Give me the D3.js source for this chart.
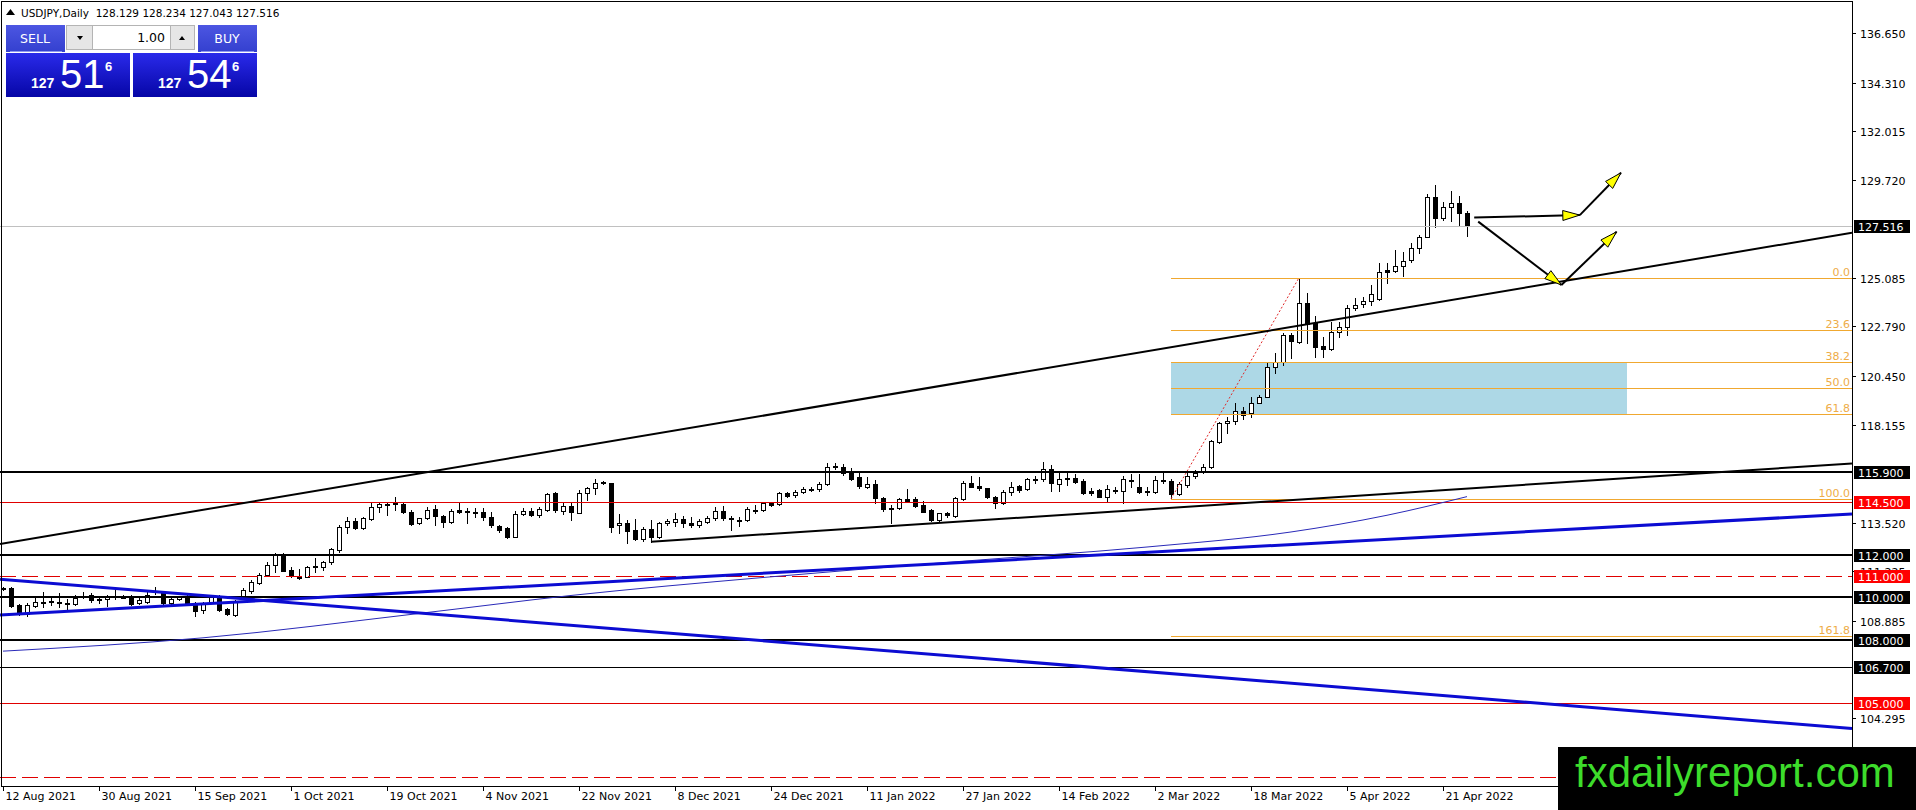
<!DOCTYPE html>
<html><head><meta charset="utf-8">
<script src="https://cdn.jsdelivr.net/npm/d3@7"></script>
<style>html,body{margin:0;padding:0;background:#fff;overflow:hidden}</style>
</head><body><svg id="c" width="1916" height="810"></svg>
<script>
// ---------------- DATA ----------------
const symbolHeader = "USDJPY,Daily";
const lastOHLC = ["128.129","128.234","127.043","127.516"];
const lotSize = "1.00";
const sellQuote = ["127","51","6"];
const buyQuote = ["127","54","6"];
const watermark = "fxdailyreport.com";

const dateLabels = ["12 Aug 2021","30 Aug 2021","15 Sep 2021","1 Oct 2021","19 Oct 2021","4 Nov 2021","22 Nov 2021","8 Dec 2021","24 Dec 2021","11 Jan 2022","27 Jan 2022","14 Feb 2022","2 Mar 2022","18 Mar 2022","5 Apr 2022","21 Apr 2022"];
const dateLabelBars = [0,12,24,36,48,60,72,84,96,108,120,132,144,156,168,180];
const priceTicks = [136.650,134.310,132.015,129.720,125.085,122.790,120.450,118.155,113.520,111.225,108.885,104.295];

const opens = [110.44,110.45,109.63,109.21,109.58,109.74,109.78,109.76,109.74,109.66,110.04,110.10,109.88,109.90,110.04,110.03,109.99,109.71,109.79,110.25,110.26,109.71,109.93,110.02,109.71,109.39,109.79,110.02,109.43,109.16,109.99,110.29,110.65,111.05,111.52,112.02,111.28,110.97,110.97,111.44,111.41,111.68,112.23,113.33,113.61,113.25,113.68,114.24,114.40,114.42,114.39,114.04,113.52,113.72,114.17,113.84,113.57,114.12,114.03,114.02,114.04,113.77,113.36,113.25,112.86,113.93,114.09,113.88,114.12,114.91,114.09,114.31,113.99,114.91,115.14,115.41,115.38,113.41,113.52,113.17,112.73,113.20,112.83,113.49,113.57,113.71,113.49,113.41,113.57,113.73,114.07,113.75,113.66,113.65,114.10,114.12,114.43,114.40,114.94,114.83,114.98,115.10,115.09,115.35,116.17,116.13,115.93,115.69,115.19,115.35,114.67,114.22,114.20,114.62,114.62,114.35,114.12,113.65,113.96,113.83,114.62,115.38,115.25,115.14,114.72,114.43,114.99,115.25,115.10,115.55,115.57,116.04,115.35,115.60,115.61,115.48,115.03,115.06,114.75,115.05,115.03,115.52,115.19,115.00,114.99,115.52,115.50,114.87,115.30,115.72,115.90,116.13,117.35,118.21,118.34,118.81,118.69,119.19,119.47,120.86,121.13,122.39,122.07,123.91,122.97,121.87,121.71,122.54,122.78,123.65,123.83,124.01,124.07,125.45,125.42,125.64,125.93,126.48,127.03,128.92,127.90,128.42,128.60,128.129];
const highs = [110.50,110.50,109.68,109.71,109.95,110.26,110.02,110.18,109.90,110.10,110.26,110.21,110.02,110.10,110.34,110.10,110.10,109.95,110.26,110.50,110.29,109.95,110.05,110.08,109.79,109.79,110.10,110.10,109.47,109.87,110.42,110.81,111.13,111.68,112.07,112.10,111.41,111.32,111.47,111.83,111.73,112.31,113.41,113.80,113.72,113.80,114.51,114.51,114.43,114.72,114.43,114.12,113.75,114.28,114.35,113.88,114.15,114.51,114.20,114.20,114.20,114.04,113.41,113.30,114.09,114.20,114.20,114.27,114.94,114.98,114.51,114.43,115.06,115.22,115.57,115.49,115.41,113.93,113.65,113.68,113.30,113.65,113.57,113.69,113.96,113.83,113.80,113.68,113.83,114.28,114.31,113.83,113.77,114.27,114.35,114.51,114.46,114.98,114.98,115.06,115.19,115.22,115.46,116.35,116.32,116.29,116.09,115.88,115.66,115.54,114.75,114.35,114.67,115.09,114.72,114.56,114.15,113.99,114.04,114.72,115.50,115.72,115.66,115.17,114.78,115.06,115.46,115.30,115.61,115.73,116.37,116.24,115.85,115.88,115.82,115.57,115.14,115.10,115.30,115.19,115.73,115.82,115.82,115.22,115.73,115.85,115.56,115.46,115.93,116.01,116.29,117.43,118.29,118.53,119.16,119.00,119.47,119.55,121.13,121.52,122.46,122.46,125.09,124.35,123.28,122.31,123.02,123.02,123.80,124.12,124.20,124.75,125.80,125.80,126.40,126.32,126.72,127.11,129.05,129.47,128.68,129.20,128.95,128.234];
const lows = [110.35,109.55,109.16,109.11,109.52,109.55,109.63,109.55,109.43,109.63,109.98,109.79,109.74,109.60,109.90,109.95,109.63,109.68,109.71,110.15,109.68,109.66,109.88,109.65,109.13,109.24,109.75,109.36,109.14,109.11,109.99,110.21,110.62,111.00,111.21,111.24,110.97,110.84,110.94,111.21,111.28,111.57,112.15,113.02,113.22,113.22,113.65,114.04,113.88,114.12,113.96,113.41,113.45,113.68,113.41,113.33,113.52,113.96,113.49,113.77,113.65,113.33,113.10,112.78,112.83,113.88,113.83,113.80,114.09,114.04,113.93,113.65,113.96,114.59,114.87,115.33,113.10,113.02,112.54,112.70,112.67,112.62,112.78,113.41,113.36,113.30,113.30,113.30,113.52,113.65,113.65,113.17,113.36,113.61,113.99,114.09,114.32,114.35,114.72,114.75,114.91,115.03,115.03,115.30,116.04,115.77,115.54,115.14,115.14,114.43,114.09,113.52,114.15,114.51,114.28,114.01,113.61,113.57,113.80,113.80,114.59,115.19,115.06,114.67,114.20,114.39,114.83,114.99,115.06,115.38,115.50,115.03,115.03,115.30,115.38,114.87,114.83,114.72,114.51,114.94,114.43,115.22,114.91,114.83,114.94,115.41,114.64,114.83,115.22,115.61,115.85,116.09,117.30,117.74,118.18,118.40,118.50,119.16,119.44,120.61,120.97,121.28,122.02,122.02,121.36,121.33,121.68,122.31,122.39,123.57,123.72,123.80,124.04,124.83,125.38,125.17,125.85,126.27,127.00,127.50,127.82,127.79,127.53,127.043];
const closes = [110.41,109.58,109.21,109.63,109.76,109.77,109.80,109.74,109.70,109.98,110.06,109.87,109.91,110.02,110.06,110.01,109.68,109.87,110.10,110.27,109.71,109.90,110.02,109.68,109.36,109.71,110.02,109.39,109.21,109.79,110.34,110.73,111.05,111.52,111.99,111.25,111.05,110.89,111.44,111.47,111.68,112.26,113.30,113.61,113.25,113.72,114.28,114.39,114.38,114.44,114.01,113.46,113.72,114.12,113.84,113.57,114.09,114.01,114.05,114.00,113.77,113.41,113.17,112.86,113.93,114.09,113.88,114.15,114.87,114.12,114.31,114.04,114.94,115.14,115.41,115.43,113.33,113.52,113.14,112.73,113.20,112.83,113.49,113.60,113.71,113.49,113.41,113.60,113.76,114.07,113.73,113.72,113.65,114.15,114.12,114.46,114.35,114.94,114.80,114.98,115.10,115.11,115.35,116.13,116.20,115.88,115.57,115.25,115.35,114.67,114.15,114.20,114.62,114.56,114.31,114.04,113.65,113.96,113.88,114.67,115.41,115.22,115.14,114.72,114.43,114.99,115.22,115.06,115.57,115.57,116.04,115.41,115.57,115.62,115.46,114.94,114.94,114.75,115.10,115.07,115.57,115.54,114.99,114.98,115.54,115.49,114.87,115.35,115.72,115.88,116.17,117.39,118.21,118.34,118.81,118.61,119.19,119.47,120.89,121.13,122.39,122.12,123.91,122.91,121.83,121.71,122.54,122.78,123.65,123.80,124.01,124.32,125.38,125.38,125.64,125.90,126.48,127.03,128.92,127.90,128.42,128.60,128.16,127.516];

// thin moving average, read at sample bars
const maBars = [0,25,52,71,95,119,143,161,173,183];
const maValues = [107.45,108.08,109.23,110.08,110.93,111.67,112.37,113.08,113.87,114.75];

// horizontal levels
const levelPrices = [115.900,114.500,112.000,111.000,110.000,108.000,106.700,105.000,101.500];
const levelKinds = ["black","red","black","redDash","black","black","blackThin","red","redDash"];
const levelLabelShown = [true,true,true,true,true,true,true,true,false];
const currentPrice = 127.516;

// fibonacci retracement
const fibAnchorBars = [146,162];
const fibAnchorPrices = [114.64,125.09];
const fibLevels = [0.0,23.6,38.2,50.0,61.8,100.0,161.8];
const zoneBars = [146,203];
const zoneFibLevels = [38.2,61.8];

// trend lines: [bar, price]
const trendLongBlack = [[0,112.54],[183,124.16]];
const trendDecBlack = [[81,112.62],[183,115.13]];
const trendBlueUp = [[0,109.17],[183,112.94]];
const trendBlueDown = [[0,110.84],[183,105.26]];

// projected arrows: [bar, price]
const arrowPathFlat = [[183.9,127.93],[197.1,128.05],[202.25,130.05]];
const arrowPathDip = [[184.4,127.74],[194.8,124.75],[201.7,127.26]];

// ---------------- DRAW ----------------
const W = 1916, H = 810, AX = 1852, AY = 786;
const svg = d3.select("#c");
const x = d3.scaleLinear().domain([0, 231.125]).range([3, AX]);
const y = d3.scaleLinear().domain([101.08, 138.21]).range([AY, 0]);
const FONT = "'DejaVu Sans', Verdana, sans-serif";

const defs = svg.append("defs");
defs.append("clipPath").attr("id","plot").append("rect").attr("x",0).attr("y",0).attr("width",AX).attr("height",AY);
const g1 = defs.append("linearGradient").attr("id","btn").attr("x1",0).attr("y1",0).attr("x2",0).attr("y2",1);
g1.append("stop").attr("offset","0").attr("stop-color","#4c56e2");
g1.append("stop").attr("offset","1").attr("stop-color","#3440cf");
const g2 = defs.append("linearGradient").attr("id","quote").attr("x1",0).attr("y1",0).attr("x2",0).attr("y2",1);
g2.append("stop").attr("offset","0").attr("stop-color","#2a2aea");
g2.append("stop").attr("offset","1").attr("stop-color","#0606a6");

svg.append("rect").attr("width",W).attr("height",H).attr("fill","#fff");

const plot = svg.append("g").attr("clip-path","url(#plot)");

// zone rectangle (background object)
const fibPrice = lv => fibAnchorPrices[1] - (fibAnchorPrices[1]-fibAnchorPrices[0])*lv/100;
plot.append("rect")
  .attr("x", x(zoneBars[0])).attr("width", x(zoneBars[1]) - x(zoneBars[0]))
  .attr("y", y(fibPrice(zoneFibLevels[0]))).attr("height", y(fibPrice(zoneFibLevels[1])) - y(fibPrice(zoneFibLevels[0])))
  .attr("fill","#add8e6");

// candles
const cg = plot.append("g").attr("shape-rendering","crispEdges");
opens.forEach((o,i) => {
  const cx = Math.round(x(i));
  const h = highs[i], l = lows[i], c = closes[i];
  cg.append("line").attr("x1",cx+0.5).attr("x2",cx+0.5)
    .attr("y1",Math.round(y(h))).attr("y2",Math.round(y(l))+1)
    .attr("stroke","#000").attr("stroke-width",1);
  const top = Math.round(y(Math.max(o,c))), bot = Math.round(y(Math.min(o,c)));
  cg.append("rect").attr("x",cx-1.5).attr("width",4)
    .attr("y",top+0.5).attr("height",Math.max(1,bot-top))
    .attr("fill", c >= o ? "#fff" : "#000").attr("stroke","#000").attr("stroke-width",1);
});

// current price line
plot.append("line").attr("x1",0).attr("x2",AX).attr("y1",Math.round(y(currentPrice))+0.5).attr("y2",Math.round(y(currentPrice))+0.5)
  .attr("stroke","#c0c0c0").attr("stroke-width",1);

// fib
const fibG = plot.append("g");
fibLevels.forEach(lv => {
  const yy = Math.round(y(fibPrice(lv)))+0.5;
  fibG.append("line").attr("x1",x(fibAnchorBars[0])).attr("x2",AX).attr("y1",yy).attr("y2",yy)
    .attr("stroke","#f0a830").attr("stroke-width",1);
  fibG.append("text").attr("x",AX-2).attr("y",yy-3).attr("text-anchor","end")
    .attr("font-family",FONT).attr("font-size",11).attr("fill","#eeac48").text(lv.toFixed(1));
});
fibG.append("line")
  .attr("x1",x(fibAnchorBars[0])).attr("y1",y(fibAnchorPrices[0]))
  .attr("x2",x(fibAnchorBars[1])).attr("y2",y(fibAnchorPrices[1]))
  .attr("stroke","#e02a2a").attr("stroke-width",1).attr("stroke-dasharray","2,2");

// horizontal levels
const levelStyle = {
  black:{c:"#000",w:2,d:null}, blackThin:{c:"#000",w:1,d:null},
  red:{c:"#e00000",w:1,d:null}, redDash:{c:"#e00000",w:1,d:"16,6"}
};
levelPrices.forEach((p,i) => {
  const s = levelStyle[levelKinds[i]];
  const yy = Math.round(y(p)) + (s.w===1?0.5:0);
  const ln = plot.append("line").attr("x1",0).attr("x2",AX).attr("y1",yy).attr("y2",yy)
    .attr("stroke",s.c).attr("stroke-width",s.w);
  if (s.d) ln.attr("stroke-dasharray",s.d);
});

// moving average
plot.append("path")
  .datum(maBars.map((b,i)=>[b,maValues[i]]))
  .attr("d", d3.line().x(d=>x(d[0])).y(d=>y(d[1])).curve(d3.curveMonotoneX))
  .attr("fill","none").attr("stroke","#2a2ab8").attr("stroke-width",1);

// trend lines
function ray(pts, extendLeft, color, w) {
  const x1 = x(pts[0][0]), y1 = y(pts[0][1]), x2 = x(pts[1][0]), y2 = y(pts[1][1]);
  const k = (y2-y1)/(x2-x1);
  const xs = extendLeft ? 0 : x1;
  plot.append("line").attr("x1",xs).attr("y1",y1 + k*(xs-x1))
    .attr("x2",AX).attr("y2",y1 + k*(AX-x1))
    .attr("stroke",color).attr("stroke-width",w).attr("stroke-linecap","butt");
}
ray(trendBlueUp, true, "#0c0cd2", 3);
ray(trendBlueDown, true, "#0c0cd2", 3);
ray(trendDecBlack, false, "#000", 2);
ray(trendLongBlack, true, "#000", 2);

// arrows
function arrowPath(pts) {
  for (let i=1;i<pts.length;i++){
    const ax = x(pts[i-1][0]), ay = y(pts[i-1][1]), bx = x(pts[i][0]), by = y(pts[i][1]);
    plot.append("line").attr("x1",ax).attr("y1",ay).attr("x2",bx).attr("y2",by)
      .attr("stroke","#000").attr("stroke-width",2);
    const L = 17, hw = 5;
    const dx = bx-ax, dy = by-ay, len = Math.hypot(dx,dy), ux = dx/len, uy = dy/len;
    const baseX = bx - ux*L, baseY = by - uy*L;
    const pts3 = [[bx,by],[baseX - uy*hw, baseY + ux*hw],[baseX + uy*hw, baseY - ux*hw]];
    plot.append("polygon").attr("points", pts3.map(p=>p.join(",")).join(" "))
      .attr("fill","#ffff00").attr("stroke","#000").attr("stroke-width",1).attr("stroke-linejoin","miter");
  }
}
arrowPath(arrowPathFlat);
arrowPath(arrowPathDip);

// frame and axes
svg.append("rect").attr("x",1.5).attr("y",1.5).attr("width",AX-1).attr("height",AY-1)
  .attr("fill","none").attr("stroke","#000").attr("stroke-width",1).attr("shape-rendering","crispEdges");

// right axis ticks
const ra = svg.append("g");
priceTicks.forEach(p => {
  const yy = Math.round(y(p))+0.5;
  ra.append("line").attr("x1",AX).attr("x2",AX+4).attr("y1",yy).attr("y2",yy).attr("stroke","#000");
  ra.append("text").attr("x",AX+8).attr("y",yy+4).attr("font-family",FONT).attr("font-size",11).attr("fill","#000")
    .text(p.toFixed(3));
});
// value boxes
function valueBox(p, bg) {
  const yy = Math.round(y(p));
  ra.append("rect").attr("x",AX+2).attr("y",yy-6).attr("width",56).attr("height",13).attr("fill",bg);
  ra.append("text").attr("x",AX+6).attr("y",yy+4.5).attr("font-family",FONT).attr("font-size",11).attr("fill","#fff")
    .text(p.toFixed(3));
}
levelPrices.forEach((p,i) => { if (levelLabelShown[i]) valueBox(p, levelKinds[i].startsWith("red") ? "#ff0000" : "#000"); });
valueBox(currentPrice, "#000");

// bottom axis
const ba = svg.append("g");
dateLabelBars.forEach((b,i) => {
  const xx = Math.round(x(b))+0.5;
  ba.append("line").attr("x1",xx).attr("x2",xx).attr("y1",AY).attr("y2",AY+5).attr("stroke","#000");
  ba.append("text").attr("x",xx+2).attr("y",AY+14).attr("font-family",FONT).attr("font-size",11).attr("fill","#000")
    .text(dateLabels[i]);
});

// header
svg.append("polygon").attr("points","6,15 10.5,9 15,15").attr("fill","#000");
svg.append("text").attr("x",21).attr("y",17).attr("font-family",FONT).attr("font-size",10.5).attr("fill","#000")
  .attr("xml:space","preserve").text(symbolHeader + "  " + lastOHLC.join(" "));

// one-click trading panel
const panel = svg.append("g");
panel.append("rect").attr("x",6).attr("y",25).attr("width",59).attr("height",27).attr("fill","url(#btn)");
panel.append("rect").attr("x",198).attr("y",25).attr("width",59).attr("height",27).attr("fill","url(#btn)");
panel.append("line").attr("x1",10).attr("x2",62).attr("y1",51.5).attr("y2",51.5).attr("stroke","#8f98f0");
panel.append("line").attr("x1",201).attr("x2",254).attr("y1",51.5).attr("y2",51.5).attr("stroke","#8f98f0");
panel.append("text").attr("x",35).attr("y",43).attr("text-anchor","middle").attr("font-family",FONT).attr("font-size",12.5).attr("fill","#fff").text("SELL");
panel.append("text").attr("x",227).attr("y",43).attr("text-anchor","middle").attr("font-family",FONT).attr("font-size",12.5).attr("fill","#fff").text("BUY");
// lot box
panel.append("rect").attr("x",66.5).attr("y",25.5).attr("width",128).attr("height",24).attr("fill","#e6e6e6").attr("stroke","#b4b4b4");
panel.append("rect").attr("x",92.5).attr("y",25.5).attr("width",78).attr("height",24).attr("fill","#fff").attr("stroke","#b4b4b4");
panel.append("polygon").attr("points","77,36 83,36 80,40").attr("fill","#000");
panel.append("polygon").attr("points","179,40 185,40 182,36").attr("fill","#000");
panel.append("text").attr("x",165).attr("y",42).attr("text-anchor","end").attr("font-family",FONT).attr("font-size",12.5).attr("fill","#000").text(lotSize);
// quote boxes
function quote(x0, q) {
  panel.append("rect").attr("x",x0).attr("y",53).attr("width",124).attr("height",44).attr("fill","url(#quote)");
  panel.append("text").attr("x",x0+25).attr("y",88).attr("font-family","'Liberation Sans', Arial, sans-serif").attr("font-weight","bold").attr("font-size",14).attr("fill","#fff").text(q[0]);
  panel.append("text").attr("x",x0+54).attr("y",88).attr("font-family","'Liberation Sans', Arial, sans-serif").attr("font-size",40).attr("fill","#fff").text(q[1]);
  panel.append("text").attr("x",x0+99).attr("y",71).attr("font-family","'Liberation Sans', Arial, sans-serif").attr("font-weight","bold").attr("font-size",13).attr("fill","#fff").text(q[2]);
}
quote(6, sellQuote);
quote(133, buyQuote);

// watermark
svg.append("rect").attr("x",1558).attr("y",747).attr("width",W-1558).attr("height",H-747).attr("fill","#000");
svg.append("text").attr("x",1575).attr("y",787).attr("font-family","'Liberation Sans', Arial, sans-serif").attr("font-size",42)
  .attr("fill","#3ddc2b").text(watermark);
</script></body></html>
